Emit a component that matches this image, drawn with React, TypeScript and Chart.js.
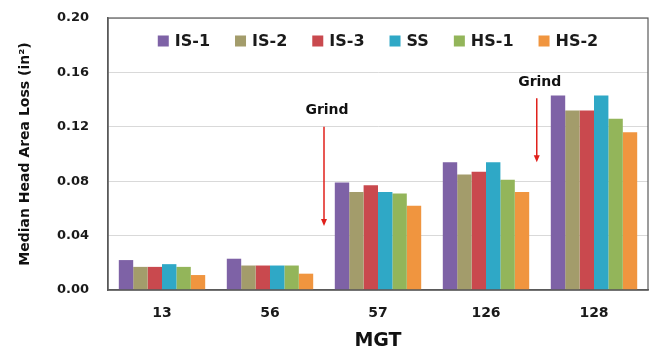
import React, { useEffect, useRef } from "react";
import { Chart, registerables } from "chart.js";

Chart.register(...registerables);

const categories = ["13", "56", "57", "126", "128"];
const seriesNames = ["IS-1", "IS-2", "IS-3", "SS", "HS-1", "HS-2"];
const seriesColors = ["#7E62A6", "#A39C6B", "#C9494E", "#2FA8C6", "#93B55A", "#F0953F"];
const is1 = [0.022, 0.023, 0.079, 0.094, 0.143];
const is2 = [0.017, 0.018, 0.072, 0.085, 0.132];
const is3 = [0.017, 0.018, 0.077, 0.087, 0.132];
const ss = [0.019, 0.018, 0.072, 0.094, 0.143];
const hs1 = [0.017, 0.018, 0.071, 0.081, 0.126];
const hs2 = [0.011, 0.012, 0.062, 0.072, 0.116];
const seriesValues = [is1, is2, is3, ss, hs1, hs2];
const yTicks = [0, 0.04, 0.08, 0.12, 0.16, 0.2];

// Grind annotations: x position (category index), arrow start/end values, label value
const grindX = [1.5, 3.47];
const grindArrowTop = [0.12, 0.141];
const grindArrowBottom = [0.047, 0.094];
const grindLabelY = [0.132, 0.153];

const FONT = "'DejaVu Sans', sans-serif";

const extrasPlugin = {
  id: "extras",
  afterDraw(chart: any) {
    const { ctx, chartArea, scales } = chart;
    ctx.save();
    ctx.strokeStyle = "#5a5a5a";
    ctx.lineWidth = 1.2;
    ctx.strokeRect(chartArea.left, chartArea.top, chartArea.right - chartArea.left, chartArea.bottom - chartArea.top);

    // legend inside the plot area
    ctx.font = `bold 16px ${FONT}`;
    ctx.textBaseline = "middle";
    ctx.textAlign = "left";
    const box = 11;
    const gapText = 6;
    const gapItem = 25;
    const datasets = chart.data.datasets;
    const widths = datasets.map((d: any) => box + gapText + ctx.measureText(d.label).width);
    const total = widths.reduce((a: number, b: number) => a + b, 0) + gapItem * (datasets.length - 1);
    let lx = (chartArea.left + chartArea.right) / 2 - total / 2;
    const ly = chartArea.top + 23;
    datasets.forEach((d: any, i: number) => {
      ctx.fillStyle = d.backgroundColor;
      ctx.fillRect(lx, ly - box / 2, box, box);
      ctx.fillStyle = "#1a1a1a";
      ctx.fillText(d.label, lx + box + gapText, ly + 1);
      lx += widths[i] + gapItem;
    });

    for (let i = 0; i < grindX.length; i++) {
      const x = scales.x.getPixelForValue(grindX[i]);
      const y1 = scales.y.getPixelForValue(grindArrowTop[i]);
      const y2 = scales.y.getPixelForValue(grindArrowBottom[i]);
      const yl = scales.y.getPixelForValue(grindLabelY[i]);
      ctx.strokeStyle = "#E0201B";
      ctx.fillStyle = "#E0201B";
      ctx.lineWidth = 1.5;
      ctx.beginPath();
      ctx.moveTo(x, y1);
      ctx.lineTo(x, y2 - 6);
      ctx.stroke();
      ctx.beginPath();
      ctx.moveTo(x - 3, y2 - 7);
      ctx.lineTo(x + 3, y2 - 7);
      ctx.lineTo(x, y2);
      ctx.closePath();
      ctx.fill();
      ctx.fillStyle = "#111";
      ctx.font = `bold 14px ${FONT}`;
      ctx.textAlign = "center";
      ctx.textBaseline = "middle";
      ctx.fillText("Grind", x + 3, yl);
    }
    ctx.restore();
  },
};

export default function App() {
  const ref = useRef<HTMLCanvasElement>(null);
  useEffect(() => {
    if (!ref.current) return;
    const chart = new Chart(ref.current, {
      type: "bar",
      data: {
        labels: categories,
        datasets: seriesNames.map((n, i) => ({
          label: n,
          data: seriesValues[i],
          backgroundColor: seriesColors[i],
          borderWidth: 0,
          barPercentage: 1,
          categoryPercentage: 0.8,
        })),
      },
      options: {
        animation: false,
        responsive: false,
        maintainAspectRatio: false,
        layout: { padding: { left: 13, right: 20, top: 18, bottom: 0 } },
        plugins: {
          legend: { display: false },
          tooltip: { enabled: false },
        },
        scales: {
          x: {
            grid: { display: false },
            border: { display: true, color: "#5a5a5a", width: 1.5 },
            ticks: { color: "#1a1a1a", padding: 7, font: { family: FONT, size: 14, weight: "bold" } },
            title: {
              display: true,
              text: "MGT",
              color: "#111",
              padding: { top: 4, bottom: 8 },
              font: { family: FONT, size: 19, weight: "bold" },
            },
            afterFit: (s: any) => {
              s.height = 70;
            },
          },
          y: {
            min: 0,
            max: 0.2,
            afterBuildTicks: (s: any) => {
              s.ticks = yTicks.map((v) => ({ value: v }));
            },
            grid: { color: "#D9D9D9", lineWidth: 1, drawTicks: false },
            border: { display: true, color: "#5a5a5a", width: 1.5 },
            ticks: {
              color: "#1a1a1a",
              padding: 19,
              font: { family: FONT, size: 13, weight: "bold" },
              callback: (v: any) => Number(v).toFixed(2),
            },
            title: {
              display: true,
              text: "Median Head Area Loss (in²)",
              color: "#111",
              padding: { top: 4, bottom: 4 },
              font: { family: FONT, size: 14, weight: "bold" },
            },
            afterFit: (s: any) => {
              s.width = 95;
              s.paddingTop = 0;
              s.paddingBottom = 0;
            },
          },
        },
      },
      plugins: [extrasPlugin],
    } as any);
    return () => chart.destroy();
  }, []);
  return (
    <div style={{ position: "fixed", left: 0, top: 0, width: 668, height: 360, background: "#fff" }}>
      <canvas ref={ref} width={668} height={360} style={{ width: 668, height: 360 }} />
    </div>
  );
}
